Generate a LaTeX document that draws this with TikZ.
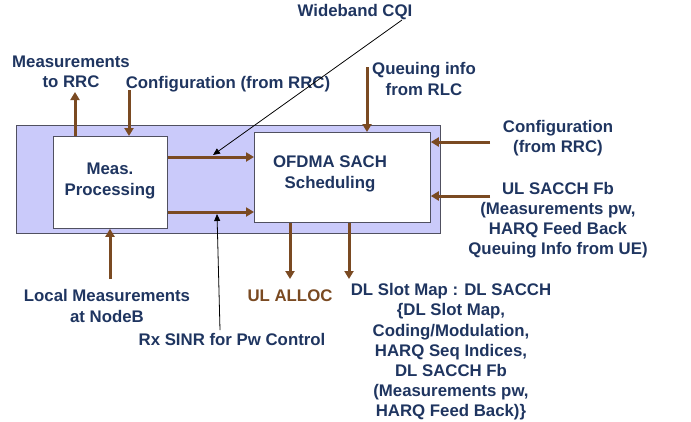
\documentclass[tikz,border=0pt]{standalone}
\usepackage{fontspec}
\setmainfont{Liberation Sans}
\usetikzlibrary{arrows.meta}
\definecolor{navy}{HTML}{1F3560}
\definecolor{brownarr}{HTML}{7A4A22}
\definecolor{lav}{HTML}{CACAFA}
\definecolor{framegray}{HTML}{505060}
\begin{document}
\begin{tikzpicture}[x=1pt,y=-1pt,
  lbl/.style={inner sep=0pt,align=center,text=navy,font=\bfseries\fontsize{16.8}{20.2}\selectfont},
  barrow/.style={draw=brownarr,line width=3pt,-{Triangle[length=8pt,width=9pt]}},
  thinarrow/.style={draw=black,line width=0.8pt,-{Triangle[length=7pt,width=6pt]}},
  box/.style={draw=framegray,line width=0.8pt,fill=white}]
\useasboundingbox (0,0) rectangle (691,421);
% outer frame
\node[draw=framegray,line width=0.8pt,fill=lav,minimum width=424pt,minimum height=108pt,inner sep=0pt,anchor=north west] (outer) at (16,125) {};
% inner boxes
\node[box,minimum width=114pt,minimum height=92pt,inner sep=0pt,anchor=north west] (meas) at (53,136) {};
\node[lbl] (meastxt) at (110,181) {Meas.\\Processing};
\node[box,minimum width=176pt,minimum height=90pt,inner sep=0pt,anchor=north west] (ofdma) at (254,132) {};
\node[lbl] (ofdmatxt) at (330,174) {OFDMA SACH\\Scheduling};
% labels
\node[lbl] (mtr) at (71,72) {Measurements\\to RRC};
\node[lbl] (cfgl) at (228,84) {Configuration (from RRC)};
\node[lbl] (wcqi) at (355,12) {Wideband CQI};
\node[lbl] (queue) at (424,79) {Queuing info\\from RLC};
\node[lbl] (cfgr) at (558,138) {Configuration\\(from RRC)};
\node[lbl] (ulsacch) at (558,220) {UL SACCH Fb\\(Measurements pw,\\HARQ Feed Back\\Queuing Info from UE)};
\node[lbl,text=brownarr] (ulalloc) at (290,296) {UL ALLOC};
\node[lbl] (dlmap) at (451,352) {DL Slot Map : DL SACCH\\\{DL Slot Map,\\Coding/Modulation,\\HARQ Seq Indices,\\DL SACCH Fb\\(Measurements pw,\\HARQ Feed Back)\}};
\node[lbl] (local) at (107,306) {Local Measurements\\at NodeB};
\node[lbl] (rxsinr) at (232,339) {Rx SINR for Pw Control};
% free-end coordinates
\coordinate (q1) at (367,67);
\coordinate (cr1) at (490,142);
\coordinate (ul1) at (490,196);
\coordinate (ula) at (290,279);
\coordinate (dla) at (349,279);
\coordinate (lm1) at (110,279);
\coordinate (w1) at (402,20);
\coordinate (rx1) at (220,330);
% brown arrows
\draw[barrow] (meas.north -| 75,0) -- (75,92);
\draw[barrow] (129,90) -- (meas.north -| 129,0);
\draw[barrow] (meas.east |- 0,157) coordinate (u0) -- (ofdma.west |- 0,157) coordinate (u1);
\draw[barrow] (meas.east |- 0,212) coordinate (l0) -- (ofdma.west |- 0,212) coordinate (l1);
\draw[barrow] (q1) -- (q1 |- ofdma.north);
\draw[barrow] (cr1) -- (ofdma.east |- cr1);
\draw[barrow] (ul1) -- (ofdma.east |- ul1);
\draw[barrow] (ofdma.south -| ula) -- (ula);
\draw[barrow] (ofdma.south -| dla) -- (dla);
\draw[barrow] (lm1) -- (meas.south -| lm1);
% thin pointer lines
\draw[thinarrow] (w1) -- (213,155);
\draw[thinarrow] (rx1) -- (217,214);
\end{tikzpicture}
\end{document}
